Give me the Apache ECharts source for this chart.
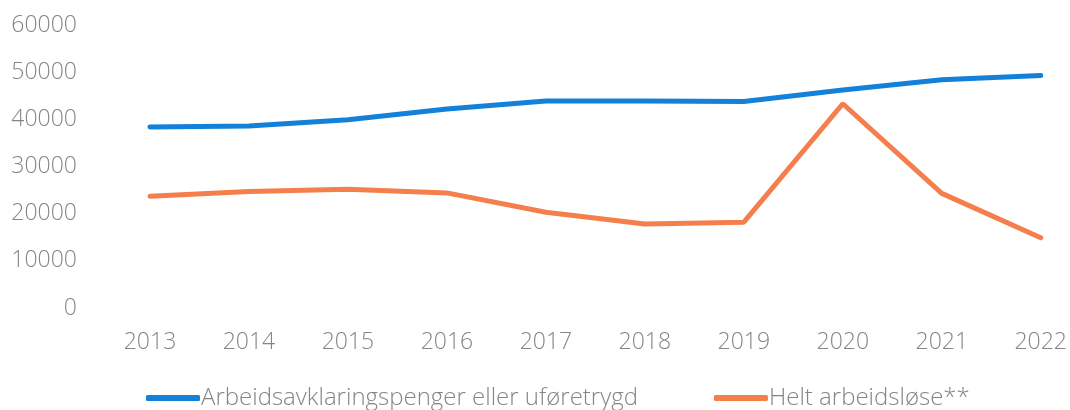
<!DOCTYPE html>
<html><head><meta charset="utf-8">
<script src="https://cdn.jsdelivr.net/npm/echarts@6/dist/echarts.min.js"></script>
<style>html,body{margin:0;padding:0;background:#fff}#c{width:1070px;height:410px}</style>
</head><body><div id="c"></div>
<script>
const years = ['2013','2014','2015','2016','2017','2018','2019','2020','2021','2022'];
const aapUfore = [38400, 38600, 39900, 42200, 43900, 43900, 43800, 46200, 48400, 49300];
const heltLedige = [23700, 24700, 25200, 24400, 20300, 17800, 18200, 43300, 24300, 14900];
const yTicks = [0, 10000, 20000, 30000, 40000, 50000, 60000];
const seriesNames = ['Arbeidsavklaringspenger eller uføretrygd', 'Helt arbeidsløse**'];

const font = '"Open Sans", sans-serif';
const chart = echarts.init(document.getElementById('c'), null, {renderer:'canvas'});
chart.setOption({
  animation:false,
  backgroundColor:'#fff',
  grid:{left:150,right:28,top:25,bottom:102,containLabel:false},
  legend:{
    left:141, top:381, itemWidth:54, itemHeight:6, itemGap:76, icon:'roundRect',
    textStyle:{fontFamily:font,fontSize:24,fontWeight:300,color:'#858585',padding:[0,0,0,-4]},
    data:seriesNames
  },
  xAxis:{type:'category',data:years,boundaryGap:false,
    axisLine:{show:false},axisTick:{show:false},splitLine:{show:false},
    axisLabel:{fontFamily:font,fontSize:23,fontWeight:300,color:'#858585',margin:23}},
  yAxis:{type:'value',min:yTicks[0],max:yTicks[yTicks.length-1],interval:10000,
    axisLine:{show:false},axisTick:{show:false},splitLine:{show:false},
    axisLabel:{fontFamily:font,fontSize:23,fontWeight:300,color:'#858585',margin:73,
      formatter:function(v){return String(v);}}},
  series:[
    {name:seriesNames[0],type:'line',data:aapUfore,showSymbol:false,symbol:'none',
     lineStyle:{color:'#1381d9',width:5,cap:'round'},itemStyle:{color:'#1381d9'}},
    {name:seriesNames[1],type:'line',data:heltLedige,showSymbol:false,symbol:'none',
     lineStyle:{color:'#f47f4d',width:5,cap:'round'},itemStyle:{color:'#f47f4d'}}
  ]
});
</script></body></html>
